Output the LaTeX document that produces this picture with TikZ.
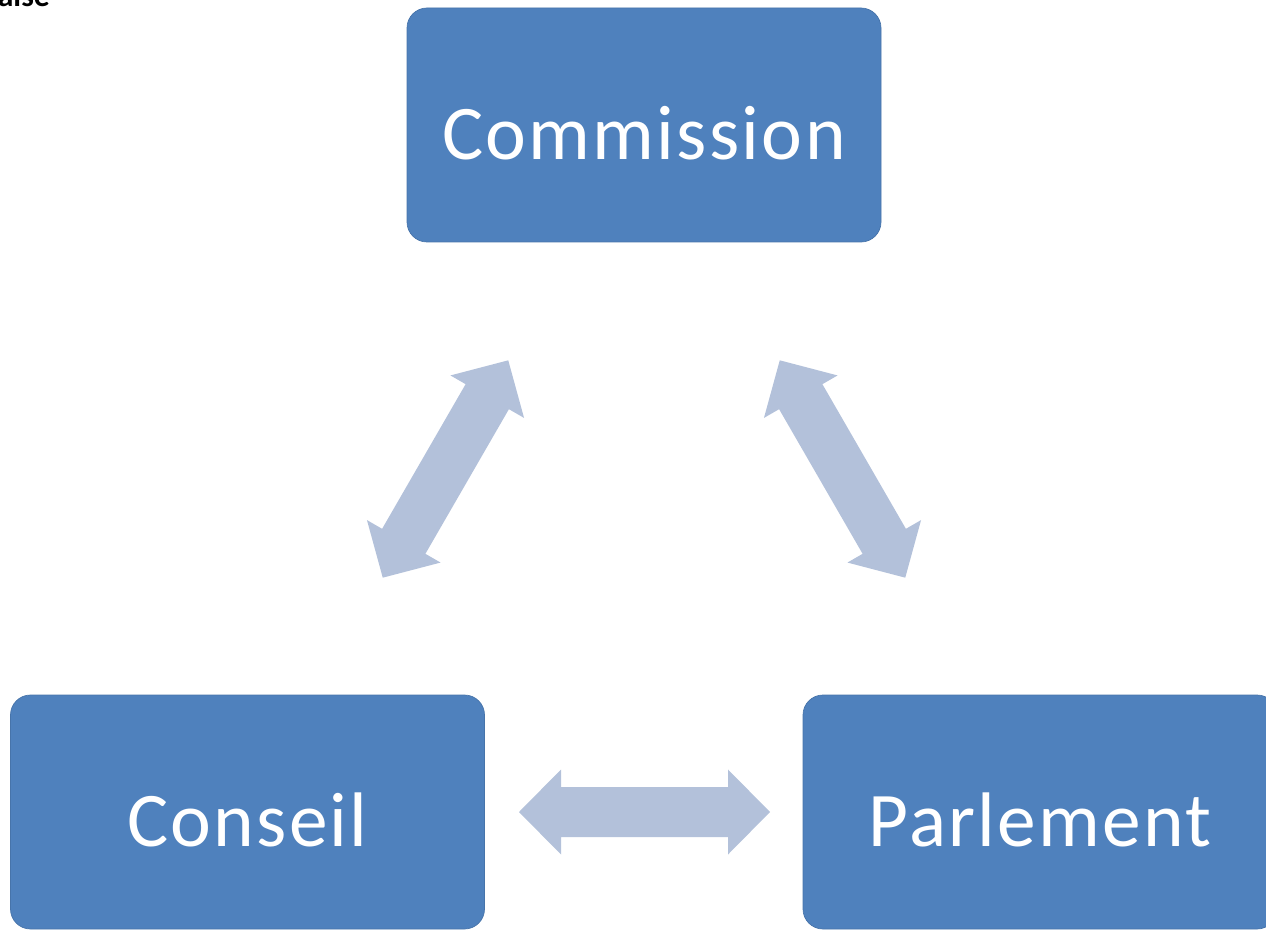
\documentclass[tikz,border=0pt]{standalone}
\usepackage{fontspec}
\setmainfont{Carlito}
\usepackage{tikz}
\usetikzlibrary{positioning}

\definecolor{boxblue}{HTML}{4F81BD}
\definecolor{arrowblue}{HTML}{B3C1DA}

\tikzset{
	organ/.style = {draw = boxblue!90!black, fill = boxblue, rounded corners = 0.4cm,
		minimum width = 9.48cm, minimum height = 4.68cm, text = white,
		text height = 1.38cm, text depth = 0cm,
		font = \fontsize{44}{54}\selectfont\addfontfeature{LetterSpace=3}},
	dblarrow/.style = {fill = arrowblue}
}

\begin{document}
\begin{tikzpicture}
	\useasboundingbox (0,0) rectangle (25.32,18.58);
	\clip (0,0) rectangle (25.32,18.58);
	% cut off text at the top
	\node [anchor = base west, inner sep = 0, font = \bfseries\fontsize{18}{20}\selectfont] (frag) at (-0.05,18.44) {aise};
	% the three institutions
	\node [organ] (commission) at (12.88,16.08) {Commission};
	\node [organ] (conseil) at (4.95,2.34) {Conseil};
	\node [organ] (parlement) at (20.8,2.34) {Parlement};
	% two-way arrows
	\fill [dblarrow, shift = {(12.89,2.34)}] (-2.51,0) -- (-1.67,0.85) -- (-1.67,0.5) -- (1.67,0.5) -- (1.67,0.85) -- (2.51,0) -- (1.67,-0.85) -- (1.67,-0.5) -- (-1.67,-0.5) -- (-1.67,-0.85) -- cycle;
	\fill [dblarrow, shift = {(8.91,9.2)}, rotate = 60] (-2.51,0) -- (-1.67,0.85) -- (-1.67,0.5) -- (1.67,0.5) -- (1.67,0.85) -- (2.51,0) -- (1.67,-0.85) -- (1.67,-0.5) -- (-1.67,-0.5) -- (-1.67,-0.85) -- cycle;
	\fill [dblarrow, shift = {(16.85,9.2)}, rotate = -60] (-2.51,0) -- (-1.67,0.85) -- (-1.67,0.5) -- (1.67,0.5) -- (1.67,0.85) -- (2.51,0) -- (1.67,-0.85) -- (1.67,-0.5) -- (-1.67,-0.5) -- (-1.67,-0.85) -- cycle;
\end{tikzpicture}
\end{document}
